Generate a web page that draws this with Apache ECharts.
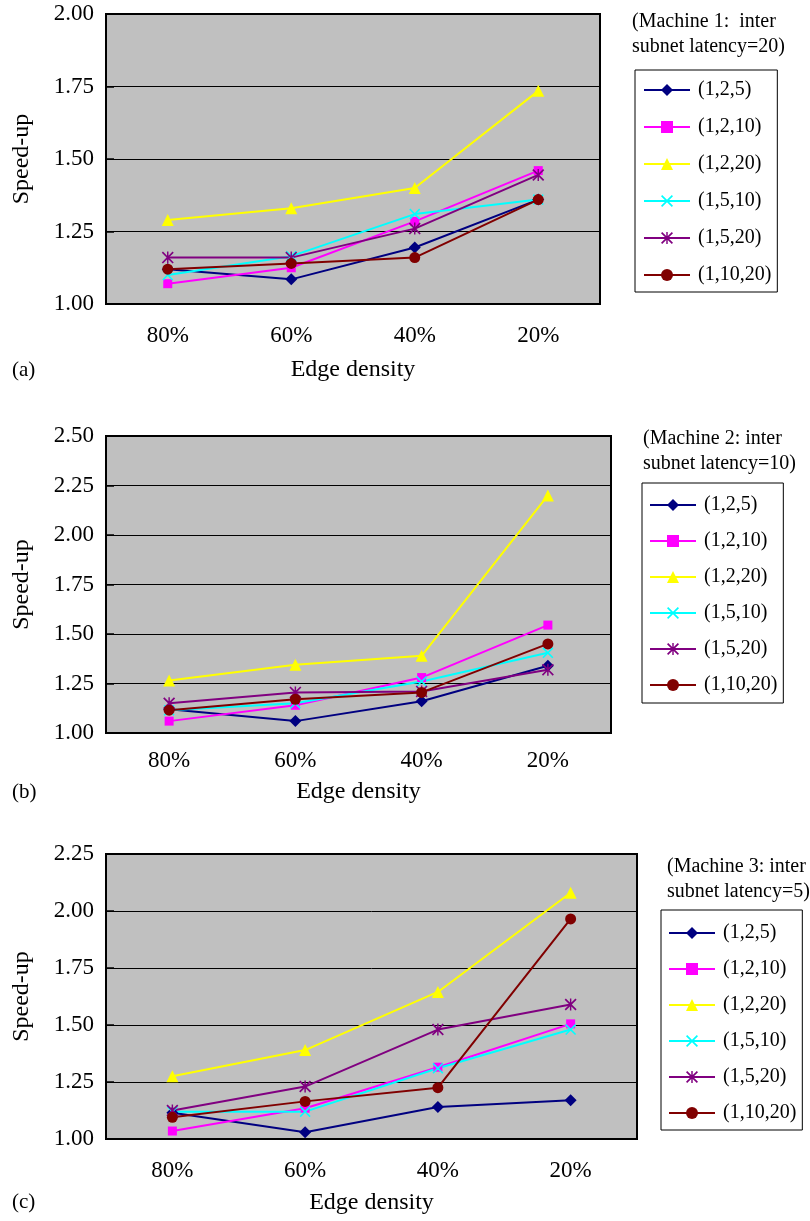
<!DOCTYPE html>
<html>
<head>
<meta charset="utf-8">
<script src="https://cdn.jsdelivr.net/npm/echarts@6/dist/echarts.min.js"></script>
<style>
  html, body { margin: 0; padding: 0; background: #fff; }
  #main { width: 810px; height: 1221px; }
</style>
</head>
<body>
<div id="main"></div>
<script>
// categories and series names
var categories = ['80%', '60%', '40%', '20%'];
var seriesNames = ['(1,2,5)', '(1,2,10)', '(1,2,20)', '(1,5,10)', '(1,5,20)', '(1,10,20)'];

// Machine 1: inter subnet latency=20
var m1_125 = [1.12, 1.085, 1.195, 1.36];
var m1_1210 = [1.07, 1.125, 1.285, 1.46];
var m1_1220 = [1.29, 1.33, 1.40, 1.735];
var m1_1510 = [1.10, 1.165, 1.31, 1.36];
var m1_1520 = [1.16, 1.16, 1.26, 1.445];
var m1_11020 = [1.12, 1.14, 1.16, 1.36];

// Machine 2: inter subnet latency=10
var m2_125 = [1.12, 1.06, 1.16, 1.34];
var m2_1210 = [1.06, 1.14, 1.28, 1.545];
var m2_1220 = [1.265, 1.345, 1.39, 2.20];
var m2_1510 = [1.115, 1.15, 1.26, 1.405];
var m2_1520 = [1.15, 1.205, 1.21, 1.32];
var m2_11020 = [1.115, 1.17, 1.205, 1.45];

// Machine 3: inter subnet latency=5
var m3_125 = [1.115, 1.03, 1.14, 1.17];
var m3_1210 = [1.035, 1.135, 1.315, 1.505];
var m3_1220 = [1.275, 1.39, 1.645, 2.08];
var m3_1510 = [1.12, 1.12, 1.31, 1.48];
var m3_1520 = [1.125, 1.23, 1.48, 1.59];
var m3_11020 = [1.095, 1.165, 1.225, 1.965];

var FONT = '"Liberation Serif", "Times New Roman", serif';

//线条颜色与标记
var colors = ['#000080', '#ff00ff', '#ffff00', '#00ffff', '#800080', '#800000'];
var crossPath = 'path://M0,1 L1,0 L5,4 L9,0 L10,1 L6,5 L10,9 L9,10 L5,6 L1,10 L0,9 L4,5 Z';
var starPath = 'path://M0,1 L1,0 L5,4 L9,0 L10,1 L6,5 L10,9 L9,10 L5,6 L1,10 L0,9 L4,5 Z M4.4,0 L5.6,0 L5.6,10 L4.4,10 Z';
var symbols = ['diamond', 'rect', 'triangle', crossPath, starPath, 'circle'];
var symbolSizes = [12, 9, 12, 11, 12, 11];

var panels = [
  { data: [m1_125, m1_1210, m1_1220, m1_1510, m1_1520, m1_11020], max: 2.0,
    grid: { left: 106, top: 14, width: 494, height: 290 },
    labelMargin: 20, nameGap: 54,
    legend: { left: 635, top: 70, itemGap: 17, padding: [10, 6, 7, 8] },
    title: { text: '(Machine 1:  inter\nsubnet latency=20)', left: 632, top: 9 },
    tag: { text: '(a)', top: 360 } },
  { data: [m2_125, m2_1210, m2_1220, m2_1510, m2_1520, m2_11020], max: 2.5,
    grid: { left: 106, top: 436, width: 505, height: 297 },
    labelMargin: 16, nameGap: 47,
    legend: { left: 642, top: 483, itemGap: 16, padding: [12, 6, 8, 7] },
    title: { text: '(Machine 2: inter\nsubnet latency=10)', left: 643, top: 426 },
    tag: { text: '(b)', top: 782 } },
  { data: [m3_125, m3_1210, m3_1220, m3_1510, m3_1520, m3_11020], max: 2.25,
    grid: { left: 106, top: 854, width: 531, height: 285 },
    labelMargin: 20, nameGap: 52,
    legend: { left: 661, top: 910, itemGap: 16, padding: [13, 6, 7, 7] },
    title: { text: '(Machine 3: inter\nsubnet latency=5)', left: 667, top: 854 },
    tag: { text: '(c)', top: 1192 } }
];

var grids = [], xAxes = [], yAxes = [], series = [], legends = [], titles = [];
panels.forEach(function (p, gi) {
  grids.push({
    left: p.grid.left, top: p.grid.top, width: p.grid.width, height: p.grid.height,
    show: true, backgroundColor: '#c0c0c0', borderColor: '#000', borderWidth: 2
  });
  xAxes.push({
    type: 'category', gridIndex: gi, data: categories,
    name: 'Edge density', nameLocation: 'middle', nameGap: p.nameGap,
    nameTextStyle: { fontFamily: FONT, fontSize: 24, color: '#000' },
    axisLine: { lineStyle: { color: '#000', width: 2 } },
    axisTick: { inside: true, length: 9, lineStyle: { color: '#000', width: 1.5 } },
    axisLabel: { fontFamily: FONT, fontSize: 23, color: '#000', margin: p.labelMargin }
  });
  yAxes.push({
    type: 'value', gridIndex: gi, min: 1, max: p.max, interval: 0.25,
    name: 'Speed-up', nameLocation: 'middle', nameGap: 72, nameRotate: 90,
    nameTextStyle: { fontFamily: FONT, fontSize: 24, color: '#000' },
    axisLine: { show: true, lineStyle: { color: '#000', width: 2 } },
    axisTick: { show: true, inside: true, length: 8, lineStyle: { color: '#000', width: 1.5 } },
    splitLine: { lineStyle: { color: '#000', width: 1 } },
    axisLabel: { fontFamily: FONT, fontSize: 23, color: '#000', margin: 12, padding: [12, 0, 0, 0],
      formatter: function (v) { return v.toFixed(2); } }
  });
  p.data.forEach(function (vals, si) {
    series.push({
      name: seriesNames[si], type: 'line', xAxisIndex: gi, yAxisIndex: gi,
      data: vals, color: colors[si], symbol: symbols[si], symbolSize: symbolSizes[si],
      showAllSymbol: true, animation: false,
      lineStyle: { width: 2, color: colors[si] },
      itemStyle: { color: colors[si], opacity: 1 }
    });
  });
  legends.push({
    orient: 'vertical', left: p.legend.left, top: p.legend.top,
    data: seriesNames, itemWidth: 46, itemHeight: 15, itemGap: p.legend.itemGap,
    borderColor: '#000', borderWidth: 1, padding: p.legend.padding,
    selectedMode: false,
    textStyle: { fontFamily: FONT, fontSize: 20, color: '#000', padding: [0, 0, 0, 3] }
  });
  titles.push({
    text: p.title.text, left: p.title.left, top: p.title.top, padding: 0,
    textStyle: { fontFamily: FONT, fontSize: 20, fontWeight: 'normal', color: '#000', lineHeight: 25 }
  });
  titles.push({
    text: p.tag.text, left: 12, top: p.tag.top, padding: 0,
    textStyle: { fontFamily: FONT, fontSize: 21, fontWeight: 'normal', color: '#000' }
  });
});

var chart = echarts.init(document.getElementById('main'));
chart.setOption({
  animation: false,
  backgroundColor: '#fff',
  title: titles,
  grid: grids,
  xAxis: xAxes,
  yAxis: yAxes,
  legend: legends,
  series: series
});
window.addEventListener('resize', function () { chart.resize(); });
</script>
</body>
</html>
